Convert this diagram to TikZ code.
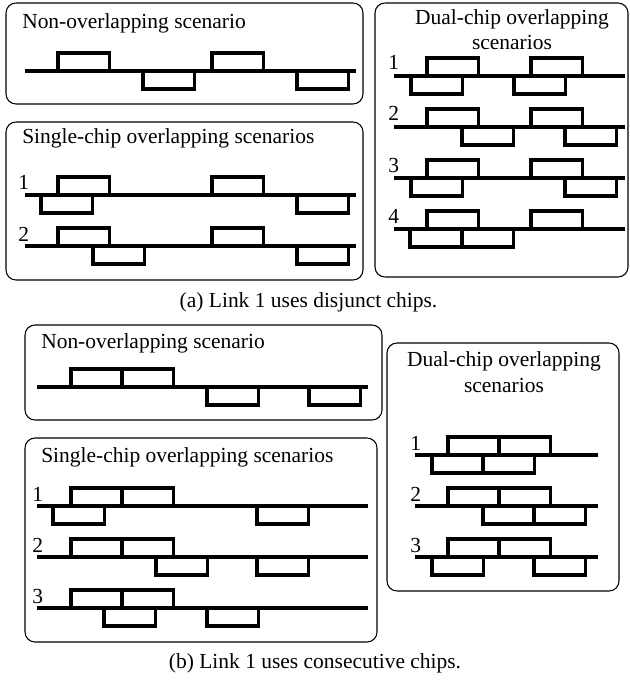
\documentclass[tikz,border=0pt]{standalone}
\usepackage{fontspec}
\setmainfont{Liberation Serif}
\usepackage{tikz}
\usetikzlibrary{positioning}

\begin{document}
\begin{tikzpicture}[
    x=0.75pt, y=-0.75pt,
    panel/.style={
        draw=black,
        line width=0.8pt,
        rounded corners=7.5pt
    },
    paneltext/.style={
        font=\fontsize{16.1}{18.8}\selectfont,
        inner sep=0pt
    },
    rowlabel/.style={
        font=\fontsize{16.1}{18.8}\selectfont,
        inner sep=0pt, anchor=base west
    },
    linkline/.style={line width=2.5pt},
    chip/.style={line width=2.5pt}
]

\useasboundingbox (0,0) rectangle (629,681);

% (a) Link 1 uses disjunct chips
\draw[panel] (6,3) rectangle (363,104);
\node[paneltext, anchor=base west] (anontitle) at (22,29) {Non-overlapping scenario};
\draw[linkline] (25,71) -- (356,71);
\draw[chip] (58,71) rectangle ++(51.5,-18);
\draw[chip] (212,71) rectangle ++(51.5,-18);
\draw[chip] (143,71) rectangle ++(51.5,18);
\draw[chip] (297,71) rectangle ++(51.5,18);

\draw[panel] (6,122) rectangle (363,280);
\node[paneltext, anchor=base west] (asingletitle) at (22,144) {Single-chip overlapping scenarios};
\node[rowlabel] (asingleone) at (18,190) {1};
\draw[linkline] (25,195) -- (356,195);
\draw[chip] (58,195) rectangle ++(51.5,-18);
\draw[chip] (212,195) rectangle ++(51.5,-18);
\draw[chip] (41,195) rectangle ++(51.5,18);
\draw[chip] (297,195) rectangle ++(51.5,18);
\node[rowlabel] (asingletwo) at (18,241) {2};
\draw[linkline] (25,246) -- (356,246);
\draw[chip] (58,246) rectangle ++(51.5,-18);
\draw[chip] (212,246) rectangle ++(51.5,-18);
\draw[chip] (93,246) rectangle ++(51.5,18);
\draw[chip] (297,246) rectangle ++(51.5,18);

\draw[panel] (375,3) rectangle (628,277);
\node[paneltext, anchor=base, align=center] (adualtitle) at (512,50) {Dual-chip overlapping\\scenarios};
\node[rowlabel] (adualone) at (388,70) {1};
\draw[linkline] (394,76) -- (625,76);
\draw[chip] (427,76) rectangle ++(51.5,-18);
\draw[chip] (531,76) rectangle ++(51.5,-18);
\draw[chip] (411,76) rectangle ++(51.5,18);
\draw[chip] (514,76) rectangle ++(51.5,18);
\node[rowlabel] (adualtwo) at (388,121) {2};
\draw[linkline] (394,127) -- (625,127);
\draw[chip] (427,127) rectangle ++(51.5,-18);
\draw[chip] (531,127) rectangle ++(51.5,-18);
\draw[chip] (462,127) rectangle ++(51.5,18);
\draw[chip] (565,127) rectangle ++(51.5,18);
\node[rowlabel] (adualthree) at (388,172) {3};
\draw[linkline] (394,178) -- (625,178);
\draw[chip] (427,178) rectangle ++(51.5,-18);
\draw[chip] (531,178) rectangle ++(51.5,-18);
\draw[chip] (411,178) rectangle ++(51.5,18);
\draw[chip] (565,178) rectangle ++(51.5,18);
\node[rowlabel] (adualfour) at (388,223) {4};
\draw[linkline] (394,229) -- (625,229);
\draw[chip] (427,229) rectangle ++(51.5,-18);
\draw[chip] (531,229) rectangle ++(51.5,-18);
\draw[chip] (410,229) rectangle ++(52,18);
\draw[chip] (462,229) rectangle ++(51.5,18);

\node[paneltext, anchor=base] (acaption) at (308.5,307) {(a) Link 1 uses disjunct chips.};

% (b) Link 1 uses consecutive chips
\draw[panel] (25,325) rectangle (382,420);
\node[paneltext, anchor=base west] (bnontitle) at (41,348) {Non-overlapping scenario};
\draw[linkline] (37,387) -- (368,387);
\draw[chip] (71,387) rectangle ++(51.5,-18);
\draw[chip] (122,387) rectangle ++(51.5,-18);
\draw[chip] (207,387) rectangle ++(51.5,18);
\draw[chip] (309,387) rectangle ++(51.5,18);

\draw[panel] (25,438) rectangle (377,642);
\node[paneltext, anchor=base west] (bsingletitle) at (41,462) {Single-chip overlapping scenarios};
\node[rowlabel] (bsingleone) at (32,501) {1};
\draw[linkline] (37,506) -- (368,506);
\draw[chip] (71,506) rectangle ++(51.5,-18);
\draw[chip] (122,506) rectangle ++(51.5,-18);
\draw[chip] (53,506) rectangle ++(51.5,18);
\draw[chip] (257,506) rectangle ++(51.5,18);
\node[rowlabel] (bsingletwo) at (32,552) {2};
\draw[linkline] (37,557) -- (368,557);
\draw[chip] (71,557) rectangle ++(51.5,-18);
\draw[chip] (122,557) rectangle ++(51.5,-18);
\draw[chip] (156,557) rectangle ++(51.5,18);
\draw[chip] (257,557) rectangle ++(51.5,18);
\node[rowlabel] (bsinglethree) at (32,603) {3};
\draw[linkline] (37,608) -- (368,608);
\draw[chip] (71,608) rectangle ++(51.5,-18);
\draw[chip] (122,608) rectangle ++(51.5,-18);
\draw[chip] (104,608) rectangle ++(51.5,18);
\draw[chip] (207,608) rectangle ++(51.5,18);

\draw[panel] (387,343) rectangle (619,591);
\node[paneltext, anchor=base, align=center] (bdualtitle) at (504,392) {Dual-chip overlapping\\scenarios};
\node[rowlabel] (bdualone) at (410,450) {1};
\draw[linkline] (415,455) -- (598,455);
\draw[chip] (448,455) rectangle ++(51.5,-18);
\draw[chip] (499,455) rectangle ++(51.5,-18);
\draw[chip] (432,455) rectangle ++(51.5,18);
\draw[chip] (483,455) rectangle ++(51.5,18);
\node[rowlabel] (bdualtwo) at (410,501) {2};
\draw[linkline] (415,506) -- (598,506);
\draw[chip] (448,506) rectangle ++(51.5,-18);
\draw[chip] (499,506) rectangle ++(51.5,-18);
\draw[chip] (483,506) rectangle ++(51.5,18);
\draw[chip] (534,506) rectangle ++(51.5,18);
\node[rowlabel] (bdualthree) at (410,552) {3};
\draw[linkline] (415,557) -- (598,557);
\draw[chip] (448,557) rectangle ++(51.5,-18);
\draw[chip] (499,557) rectangle ++(51.5,-18);
\draw[chip] (432,557) rectangle ++(51.5,18);
\draw[chip] (534,557) rectangle ++(51.5,18);

\node[paneltext, anchor=base] (bcaption) at (315,668) {(b) Link 1 uses consecutive chips.};

\end{tikzpicture}
\end{document}
